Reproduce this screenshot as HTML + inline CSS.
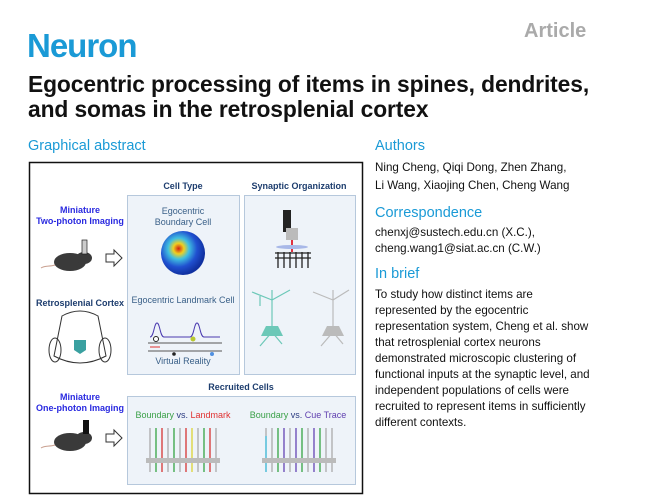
<!DOCTYPE html>
<html><head><meta charset="utf-8"><style>
body{margin:0;width:650px;height:504px;background:#fff;position:relative;overflow:hidden;font-family:"Liberation Sans",Arial,sans-serif}
.a{position:absolute;white-space:nowrap}
.h{color:#1a9ad6;font-size:14.5px}
.t{color:#111;font-size:11.6px}
</style></head><body>
<div class="a" style="left:27px;top:27px;font-size:33px;font-weight:bold;color:#1a9ad6;letter-spacing:-1px">Neuron</div>
<div class="a" style="left:524px;top:20px;font-size:20px;font-weight:bold;color:#aaa">Article</div>
<div class="a" style="left:28px;top:72px;font-size:22.8px;font-weight:bold;color:#111;line-height:25px;letter-spacing:-0.1px">Egocentric processing of items in spines, dendrites,<br>and somas in the retrosplenial cortex</div>
<div class="a h" style="left:28px;top:138px">Graphical abstract</div>
<div class="a h" style="left:375px;top:138px">Authors</div>
<div class="a t" style="left:375px;top:159px;line-height:18px">Ning Cheng, Qiqi Dong, Zhen Zhang,<br>Li Wang, Xiaojing Chen, Cheng Wang</div>
<div class="a h" style="left:375px;top:205px">Correspondence</div>
<div class="a t" style="left:375px;top:225px;line-height:15.5px">chenxj@sustech.edu.cn (X.C.),<br>cheng.wang1@siat.ac.cn (C.W.)</div>
<div class="a h" style="left:375px;top:266px">In brief</div>
<div class="a t" style="left:375px;top:287px;line-height:16px">To study how distinct items are<br>represented by the egocentric<br>representation system, Cheng et al. show<br>that retrosplenial cortex neurons<br>demonstrated microscopic clustering of<br>functional inputs at the synaptic level, and<br>independent populations of cells were<br>recruited to represent items in sufficiently<br>different contexts.</div>
<svg class="a" style="left:0;top:0" width="650" height="504" font-family="Liberation Sans, Arial, sans-serif">
<defs><radialGradient id="g" cx="0.4" cy="0.4" r="0.6"><stop offset="0" stop-color="#d02010"/><stop offset="0.2" stop-color="#f0d020"/><stop offset="0.4" stop-color="#40c0e0"/><stop offset="0.7" stop-color="#2050d0"/><stop offset="1" stop-color="#1030a0"/></radialGradient></defs>
<rect x="29.5" y="162.5" width="333" height="331" fill="#fff" stroke="#111" stroke-width="1.5"/>
<g fill="#eef3f9" stroke="#b6c8dc"><rect x="127.5" y="195.5" width="112" height="179"/><rect x="244.5" y="195.5" width="111" height="179"/><rect x="127.5" y="396.5" width="228" height="88"/></g>
<g font-weight="bold" font-size="9" fill="#1d3d6e" text-anchor="middle">
<text x="183" y="189">Cell Type</text><text x="299" y="189">Synaptic Organization</text><text x="241" y="390">Recruited Cells</text>
<text x="80" y="213" fill="#2a2ae0">Miniature</text><text x="80" y="224" fill="#2a2ae0">Two-photon Imaging</text>
<text x="80" y="306">Retrosplenial Cortex</text>
<text x="80" y="400" fill="#2a2ae0">Miniature</text><text x="80" y="411" fill="#2a2ae0">One-photon Imaging</text></g>
<g font-size="9" fill="#3a6088" text-anchor="middle"><text x="183" y="214">Egocentric</text><text x="183" y="225">Boundary Cell</text><text x="183" y="303">Egocentric Landmark Cell</text><text x="183" y="364">Virtual Reality</text></g>
<circle cx="183" cy="253" r="22" fill="url(#g)"/>
<path d="M150 337c4 0 4-14 7-14s3 14 7 14h26c4 0 4-14 7-14s3 14 7 14h16" fill="none" stroke="#4a3ab0"/>
<g stroke="#555"><line x1="148" y1="343" x2="222" y2="343"/><line x1="148" y1="351" x2="222" y2="351"/></g>
<line x1="150" y1="347" x2="160" y2="347" stroke="#e03030"/>
<circle cx="156" cy="339" r="2.5" fill="#fff" stroke="#222"/><circle cx="193" cy="339" r="2.5" fill="#b8c830"/><circle cx="174" cy="354" r="1.8" fill="#222"/><circle cx="212" cy="354" r="2" fill="#5090e0"/>
<rect x="283" y="210" width="8" height="22" fill="#222"/><rect x="286" y="228" width="12" height="12" fill="#bbb"/><line x1="292" y1="240" x2="292" y2="252" stroke="#e03040" stroke-width="2"/><ellipse cx="292" cy="247" rx="16" ry="2" fill="#a8b8e8"/>
<g stroke="#222" stroke-width="1.3">
<path d="M275 253h36M275 258h36M278 252v16M284 252v16M290 252v16M296 252v16M302 252v16M308 252v16"/></g>
<g stroke="#6cc8b8" fill="none" stroke-width="1.2"><path d="M272 290v42M272 300l-20-8M272 300l18-10M260 296v10M272 332l-12 14M272 332l10 12"/></g>
<path d="M266 326h12l5 10h-22z" fill="#6cc8b8"/>
<g stroke="#bbb" fill="none" stroke-width="1.2"><path d="M333 290v42M333 300l-20-8M333 300l16-10M333 332l-12 14M333 332l10 12"/></g>
<path d="M327 326h12l5 10h-22z" fill="#bbb"/>
<g fill="#3a3a3a"><ellipse cx="70" cy="262" rx="16" ry="9"/><ellipse cx="84" cy="258" rx="8" ry="6"/><ellipse cx="70" cy="442" rx="16" ry="9"/><ellipse cx="84" cy="438" rx="8" ry="6"/></g>
<path d="M55 265c-6 2-10 0-14 3M55 445c-6 2-10 0-14 3" stroke="#c9a090" fill="none"/>
<rect x="82" y="240" width="5" height="14" fill="#ccc" stroke="#222" stroke-width="0.7"/>
<rect x="83" y="420" width="6" height="14" fill="#111"/>
<g fill="#fff" stroke="#333"><path d="M106 254h8v-4l8 8-8 8v-4h-8z"/><path d="M106 434h8v-4l8 8-8 8v-4h-8z"/></g>
<path d="M62 316q18-10 36 0l8 40q-26 14-52 0z" fill="#fff" stroke="#333"/>
<ellipse cx="55" cy="350" rx="6" ry="12" fill="none" stroke="#333"/><ellipse cx="105" cy="350" rx="6" ry="12" fill="none" stroke="#333"/>
<path d="M74 340h12v10l-6 4-6-4z" fill="#3aa0a0"/>
<g font-size="9" text-anchor="middle"><text x="183" y="418"><tspan fill="#3aa048">Boundary</tspan> <tspan fill="#2a3a80">vs.</tspan> <tspan fill="#e03030">Landmark</tspan></text>
<text x="298" y="418"><tspan fill="#3aa048">Boundary</tspan> <tspan fill="#2a3a80">vs.</tspan> <tspan fill="#6040b0">Cue Trace</tspan></text></g>
<g stroke-width="1.3">
<path d="M150 428v44M156 428v44M162 428v44M168 428v44M174 428v44M180 428v44M186 428v44M192 428v44M198 428v44M204 428v44M210 428v44M216 428v44" stroke="#aaa"/>
<path d="M156 428v44M174 428v44M204 428v44" stroke="#40b050"/><path d="M162 428v44M186 428v44M210 428v44" stroke="#e04040"/><path d="M192 428v44" stroke="#e8e040"/>
<path d="M266 428v44M272 428v44M278 428v44M284 428v44M290 428v44M296 428v44M302 428v44M308 428v44M314 428v44M320 428v44M326 428v44M332 428v44" stroke="#aaa"/>
<path d="M278 428v44M302 428v44M320 428v44" stroke="#40b050"/><path d="M284 428v44M296 428v44M314 428v44" stroke="#7050c0"/><path d="M266 436v36" stroke="#40c0e0"/></g>
<g fill="#bbb"><rect x="146" y="458" width="74" height="5"/><rect x="262" y="458" width="74" height="5"/></g>
</svg>
</body></html>
